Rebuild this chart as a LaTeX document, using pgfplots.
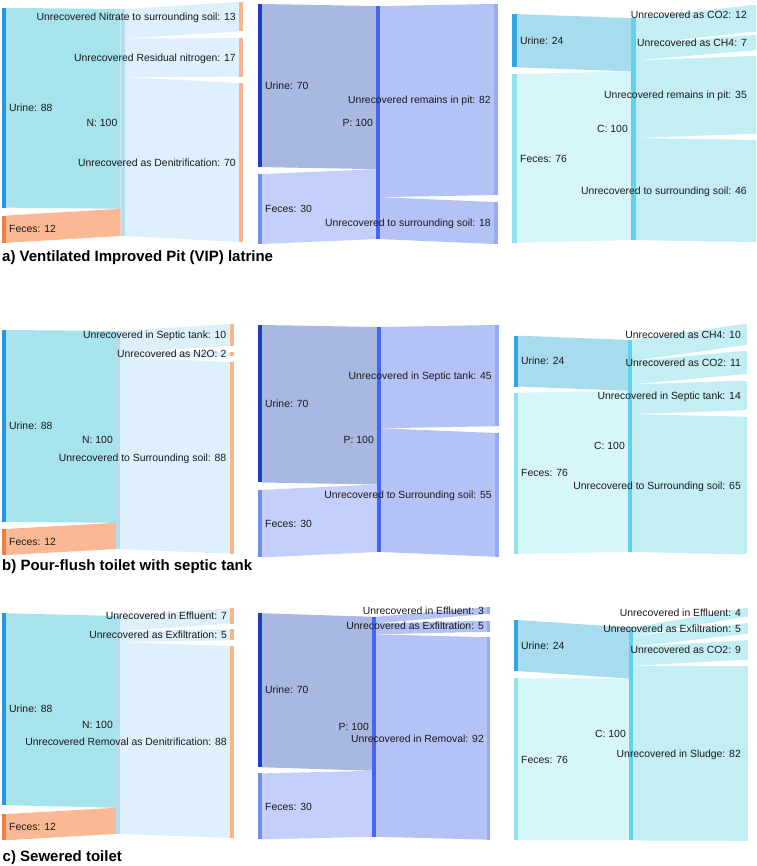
\documentclass[border=0pt]{standalone}
\usepackage{pgfplots}
\pgfplotsset{compat=1.18}
\usepackage{fontspec}
\setmainfont{Liberation Sans}
\definecolor{Nurine}{HTML}{2A96E0}
\definecolor{Nfeces}{HTML}{F07E3C}
\definecolor{Nmid}{HTML}{B4DCF4}
\definecolor{Nout}{HTML}{F9B58A}
\definecolor{NlU}{HTML}{A6E3EC}
\definecolor{NlF}{HTML}{FBB894}
\definecolor{NlO}{HTML}{DDF0FC}
\definecolor{Purine}{HTML}{1E3FC4}
\definecolor{Pfeces}{HTML}{6E8EF0}
\definecolor{Pmid}{HTML}{4466F0}
\definecolor{Pout}{HTML}{96AAF2}
\definecolor{PlU}{HTML}{A8B8E0}
\definecolor{PlF}{HTML}{C4CFFB}
\definecolor{PlO}{HTML}{B4C2F6}
\definecolor{Curine}{HTML}{34A6E4}
\definecolor{Cfeces}{HTML}{92E2EE}
\definecolor{Cmid}{HTML}{62D2EA}
\definecolor{Cout}{HTML}{BCEEF6}
\definecolor{ClU}{HTML}{A6DCEE}
\definecolor{ClF}{HTML}{D6F6FA}
\definecolor{ClO}{HTML}{C2EEF4}
\definecolor{txt}{HTML}{1A1A1A}
\newcommand{\lab}{\fontsize{10.4}{12}\selectfont}
% node: x0 x1 y0 y1 colour
\newcommand{\nd}[5]{\addplot[fill=#5,draw=none] coordinates {(#1,#3) (#2,#3) (#2,#4) (#1,#4)} -- cycle;}
% link: xs xt ys0 ys1 yt0 yt1 colour
\newcommand{\lk}[7]{\addplot[fill=#7,draw=none] coordinates {(#1,#3) (#2,#5) (#2,#6) (#1,#4)} -- cycle;}
\newcommand{\labW}[3]{\node[anchor=base west,inner sep=0pt,yshift=-3.7pt,font=\lab,text=txt] at (axis cs:#1,#2) {#3};}
\newcommand{\labE}[3]{\node[anchor=base east,inner sep=0pt,yshift=-3.7pt,font=\lab,text=txt] at (axis cs:#1,#2) {#3};}
\pgfplotsset{sk/.style={at={(0,0)},anchor=south west,width=756pt,height=866pt,scale only axis,hide axis,xmin=0,xmax=756,y dir=reverse,clip=false}}
\begin{document}
\begin{tikzpicture}
\useasboundingbox (0,0) rectangle (756pt,866pt);
% ---------- a) N ----------
\begin{axis}[sk,ymin=-0.881,ymax=380.62]
\lk{6}{120.5}{2.6}{90.6}{3.1}{91.1}{NlU}
\lk{6}{120.5}{94.1}{106.1}{91.1}{103.1}{NlF}
\lk{125}{239}{3.1}{16.1}{0}{13}{NlO}
\lk{125}{239}{16.1}{33.1}{15.9}{32.9}{NlO}
\lk{125}{239}{33.1}{103.1}{35.7}{105.7}{NlO}
\nd{2}{6}{2.6}{90.6}{Nurine}
\nd{2}{6}{94.1}{106.1}{Nfeces}
\nd{120.5}{125}{3.1}{103.1}{Nmid}
\nd{239}{243}{0}{13}{Nout}
\nd{239}{243}{15.9}{32.9}{Nout}
\nd{239}{243}{35.7}{105.7}{Nout}
\labW{9}{46.6}{Urine: 88}
\labW{9}{100.1}{Feces: 12}
\labE{117.5}{53.1}{N: 100}
\labE{236}{6.5}{Unrecovered Nitrate to surrounding soil: 13}
\labE{236}{24.4}{Unrecovered Residual nitrogen: 17}
\labE{236}{70.7}{Unrecovered as Denitrification: 70}
\end{axis}
% ---------- a) P ----------
\begin{axis}[sk,ymin=-1.717,ymax=369.96]
\lk{262}{376}{0}{70}{0.9}{70.9}{PlU}
\lk{262}{376}{73}{103}{70.9}{100.9}{PlF}
\lk{380}{494.3}{0.9}{82.9}{0}{82}{PlO}
\lk{380}{494.3}{82.9}{100.9}{85}{103}{PlO}
\nd{258}{262}{0}{70}{Purine}
\nd{258}{262}{73}{103}{Pfeces}
\nd{376}{380}{0.9}{100.9}{Pmid}
\nd{494.3}{498.3}{0}{82}{Pout}
\nd{494.3}{498.3}{85}{103}{Pout}
\labW{265}{35}{Urine: 70}
\labW{265}{88}{Feces: 30}
\labE{373}{50.9}{P: 100}
\labE{491}{41}{Unrecovered remains in pit: 82}
\labE{491}{94}{Unrecovered to surrounding soil: 18}
\end{axis}
% ---------- a) C ----------
\begin{axis}[sk,ymin=-2.252,ymax=387.84]
\lk{516.7}{631}{4.1}{28.1}{5.9}{29.9}{ClU}
\lk{516.7}{631}{31.1}{107.1}{29.9}{105.9}{ClF}
\lk{635.7}{753}{5.9}{17.9}{0}{12}{ClO}
\lk{635.7}{753}{17.9}{24.9}{13.5}{20.5}{ClO}
\lk{635.7}{753}{24.9}{59.9}{23}{58}{ClO}
\lk{635.7}{753}{59.9}{105.9}{60.8}{106.8}{ClO}
\nd{512.3}{516.7}{4.1}{28.1}{Curine}
\nd{512.3}{516.7}{31.1}{107.1}{Cfeces}
\nd{631}{635.7}{5.9}{105.9}{Cmid}
\nd{753}{756}{0}{12}{Cout}
\nd{753}{756}{13.5}{20.5}{Cout}
\nd{753}{756}{23}{58}{Cout}
\nd{753}{756}{60.8}{106.8}{Cout}
\labW{520}{16.1}{Urine: 24}
\labW{520}{69.1}{Feces: 76}
\labE{628}{55.9}{C: 100}
\labE{747}{4.6}{Unrecovered as CO2: 12}
\labE{747}{17}{Unrecovered as CH4: 7}
\labE{747}{40.5}{Unrecovered remains in pit: 35}
\labE{747}{83.8}{Unrecovered to surrounding soil: 46}
\end{axis}
% ---------- b) N ----------
\begin{axis}[sk,ymin=-148.62,ymax=248.62]
\lk{6}{116}{2.75}{90.75}{3.2}{91.2}{NlU}
\lk{6}{116}{94}{106}{91.2}{103.2}{NlF}
\lk{120}{229.5}{3.2}{13.2}{0}{10}{NlO}
\lk{120}{229.5}{13.2}{15.2}{12.8}{14.8}{NlO}
\lk{120}{229.5}{15.2}{103.2}{17.4}{105.4}{NlO}
\nd{2}{6}{2.75}{90.75}{Nurine}
\nd{2}{6}{94}{106}{Nfeces}
\nd{116}{120}{3.2}{103.2}{Nmid}
\nd{229.5}{233.5}{0}{10}{Nout}
\nd{229.5}{233.5}{12.8}{14.8}{Nout}
\nd{229.5}{233.5}{17.4}{105.4}{Nout}
\labW{9}{46.75}{Urine: 88}
\labW{9}{100}{Feces: 12}
\labE{113}{53.2}{N: 100}
\labE{226.5}{5}{Unrecovered in Septic tank: 10}
\labE{226.5}{13.8}{Unrecovered as N2O: 2}
\labE{226.5}{61.4}{Unrecovered to Surrounding soil: 88}
\end{axis}
% ---------- b) P ----------
\begin{axis}[sk,ymin=-144.44,ymax=240.44]
\lk{262}{377}{0}{70}{0.9}{70.9}{PlU}
\lk{262}{377}{73.3}{103.3}{70.9}{100.9}{PlF}
\lk{381}{495}{0.9}{45.9}{0}{45}{PlO}
\lk{381}{495}{45.9}{100.9}{48}{103}{PlO}
\nd{258}{262}{0}{70}{Purine}
\nd{258}{262}{73.3}{103.3}{Pfeces}
\nd{377}{381}{0.9}{100.9}{Pmid}
\nd{495}{499}{0}{45}{Pout}
\nd{495}{499}{48}{103}{Pout}
\labW{265}{35}{Urine: 70}
\labW{265}{88.3}{Feces: 30}
\labE{374}{50.9}{P: 100}
\labE{492}{22.5}{Unrecovered in Septic tank: 45}
\labE{492}{75.5}{Unrecovered to Surrounding soil: 55}
\end{axis}
% ---------- b) C ----------
\begin{axis}[sk,ymin=-152.83,ymax=255.66]
\lk{518}{628}{5.5}{29.5}{7.5}{31.5}{ClU}
\lk{518}{628}{32.4}{108.4}{31.5}{107.5}{ClF}
\lk{632}{744}{7.5}{17.5}{0}{10}{ClO}
\lk{632}{744}{17.5}{28.5}{12.7}{23.7}{ClO}
\lk{632}{744}{28.5}{42.5}{26.7}{40.7}{ClO}
\lk{632}{744}{42.5}{107.5}{43.7}{108.7}{ClO}
\nd{514}{518}{5.5}{29.5}{Curine}
\nd{514}{518}{32.4}{108.4}{Cfeces}
\nd{628}{632}{7.5}{107.5}{Cmid}
\nd{744}{747}{0}{10}{Cout}
\nd{744}{747}{12.7}{23.7}{Cout}
\nd{744}{747}{26.7}{40.7}{Cout}
\nd{744}{747}{43.7}{108.7}{Cout}
\labW{521}{17.5}{Urine: 24}
\labW{521}{70.4}{Feces: 76}
\labE{625}{57.5}{C: 100}
\labE{741}{5}{Unrecovered as CH4: 10}
\labE{741}{18.2}{Unrecovered as CO2: 11}
\labE{741}{33.7}{Unrecovered in Septic tank: 14}
\labE{741}{76.2}{Unrecovered to Surrounding soil: 65}
\end{axis}
% ---------- c) N ----------
\begin{axis}[sk,ymin=-279.04,ymax=118.21]
\lk{6}{116}{2.3}{90.3}{3.5}{91.5}{NlU}
\lk{6}{116}{94.4}{106.4}{91.5}{103.5}{NlF}
\lk{120}{230}{3.5}{10.5}{0}{7}{NlO}
\lk{120}{230}{10.5}{15.5}{9.6}{14.6}{NlO}
\lk{120}{230}{15.5}{103.5}{17.3}{105.3}{NlO}
\nd{2}{6}{2.3}{90.3}{Nurine}
\nd{2}{6}{94.4}{106.4}{Nfeces}
\nd{116}{120}{3.5}{103.5}{Nmid}
\nd{230}{233.5}{0}{7}{Nout}
\nd{230}{233.5}{9.6}{14.6}{Nout}
\nd{230}{233.5}{17.3}{105.3}{Nout}
\labW{9}{46.3}{Urine: 88}
\labW{9}{100.4}{Feces: 12}
\labE{113}{53.5}{N: 100}
\labE{227}{3.5}{Unrecovered in Effluent: 7}
\labE{227}{12.1}{Unrecovered as Exfiltration: 5}
\labE{227}{61.3}{Unrecovered Removal as Denitrification: 88}
\end{axis}
% ---------- c) P ----------
\begin{axis}[sk,ymin=-276.05,ymax=117.59]
\lk{262}{372}{2.7}{72.7}{4.3}{74.3}{PlU}
\lk{262}{372}{75.5}{105.5}{74.3}{104.3}{PlF}
\lk{376}{487}{4.3}{7.3}{0}{3}{PlO}
\lk{376}{487}{7.3}{12.3}{6.1}{11.1}{PlO}
\lk{376}{487}{12.3}{104.3}{13.6}{105.6}{PlO}
\nd{258}{262}{2.7}{72.7}{Purine}
\nd{258}{262}{75.5}{105.5}{Pfeces}
\nd{372}{376}{4.3}{104.3}{Pmid}
\nd{487}{490}{0}{3}{Pout}
\nd{487}{490}{6.1}{11.1}{Pout}
\nd{487}{490}{13.6}{105.6}{Pout}
\labW{265}{37.7}{Urine: 70}
\labW{265}{90.5}{Feces: 30}
\labE{369}{54.3}{P: 100}
\labE{484}{1.5}{Unrecovered in Effluent: 3}
\labE{484}{8.6}{Unrecovered as Exfiltration: 5}
\labE{484}{59.6}{Unrecovered in Removal: 92}
\end{axis}
% ---------- c) C ----------
\begin{axis}[sk,ymin=-285.59,ymax=120.99]
\lk{518}{629}{5.5}{29.5}{9}{33}{ClU}
\lk{518}{629}{32.9}{108.9}{33}{109}{ClF}
\lk{633}{745}{9}{13}{0}{4}{ClO}
\lk{633}{745}{13}{18}{7.05}{12.05}{ClO}
\lk{633}{745}{18}{27}{15.1}{24.1}{ClO}
\lk{633}{745}{27}{109}{27.15}{109.15}{ClO}
\nd{514}{518}{5.5}{29.5}{Curine}
\nd{514}{518}{32.9}{108.9}{Cfeces}
\nd{629}{633}{9}{109}{Cmid}
\nd{745}{748}{0}{4}{Cout}
\nd{745}{748}{7.05}{12.05}{Cout}
\nd{745}{748}{15.1}{24.1}{Cout}
\nd{745}{748}{27.15}{109.15}{Cout}
\labW{521}{17.5}{Urine: 24}
\labW{521}{70.9}{Feces: 76}
\labE{626}{59}{C: 100}
\labE{741}{2}{Unrecovered in Effluent: 4}
\labE{741}{9.55}{Unrecovered as Exfiltration: 5}
\labE{741}{19.6}{Unrecovered as CO2: 9}
\labE{741}{68.15}{Unrecovered in Sludge: 82}
\end{axis}
% ---------- captions ----------
\node[anchor=base west,inner sep=0pt,font=\fontsize{15}{18}\selectfont\bfseries] at (2pt,604pt) {a) Ventilated Improved Pit (VIP) latrine};
\node[anchor=base west,inner sep=0pt,font=\fontsize{15}{18}\selectfont\bfseries] at (2pt,295.5pt) {b) Pour-flush toilet with septic tank};
\node[anchor=base west,inner sep=0pt,font=\fontsize{15}{18}\selectfont\bfseries] at (2.5pt,5pt) {c) Sewered toilet};
\end{tikzpicture}
\end{document}
